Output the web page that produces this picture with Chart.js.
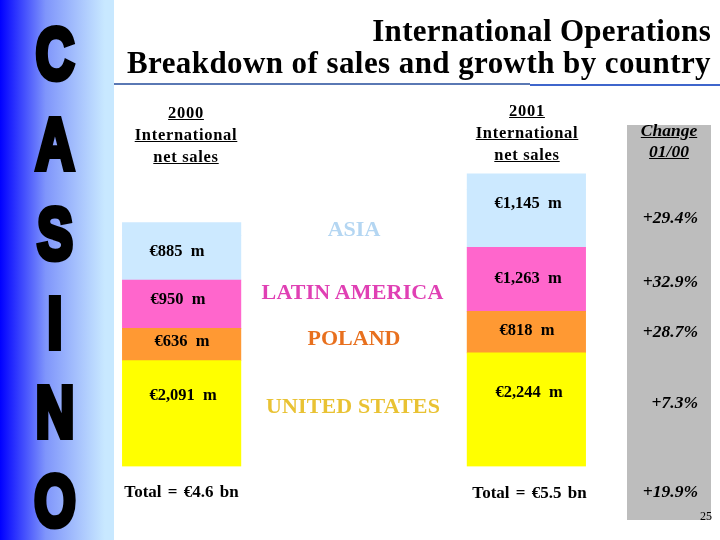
<!DOCTYPE html>
<html><head><meta charset="utf-8">
<script src="https://cdn.jsdelivr.net/npm/chart.js@4/dist/chart.umd.min.js"></script>
<style>
html,body{margin:0;padding:0;background:#fff;width:720px;height:540px;overflow:hidden}
#stage{position:relative;width:720px;height:540px;font-family:"Liberation Serif",serif;color:#000}
#side{position:absolute;left:0;top:0;width:114px;height:540px;background:linear-gradient(90deg,#0000ff 0,#7f95fb 40%,#c8e8ff 92%,#c8e8ff 100%)}
#panel{position:absolute;left:627px;top:125px;width:84px;height:395px;background:#bdbdbd}
#rule1{position:absolute;left:114px;top:83px;width:416px;height:2px;background:#5a78b4}
#rule2{position:absolute;left:530px;top:84px;width:190px;height:2px;background:#3f66cc}
canvas{position:absolute;left:0;top:0}
.t{position:absolute;white-space:nowrap;line-height:1;font-weight:bold}
.letter{position:absolute;width:80px;text-align:center;font:bold 72px/1 "Liberation Sans Narrow","Liberation Sans",sans-serif;-webkit-text-stroke:6px #000;color:#000}
</style></head><body>
<div id="stage">
<div id="side"></div><div id="panel"></div><div id="rule1"></div><div id="rule2"></div>
<canvas id="c" width="720" height="540" style="width:720px;height:540px"></canvas>
</div>
<script>
// Data (EUR millions)
const years = ["2000", "2001"];
const unitedStates = [2091, 2244];
const poland = [636, 818];
const latinAmerica = [950, 1263];
const asia = [885, 1145];
// The reference draws the Asia block taller than its printed figure; this is that extra height.
const asiaExtraDrawn = [250, 308];
const regions = ["UNITED STATES", "POLAND", "LATIN AMERICA", "ASIA"];
const changes = ["+29.4%", "+32.9%", "+28.7%", "+7.3%", "+19.9%"];
const totals = ["Total = €4.6 bn", "Total = €5.5 bn"];
const sideLetters = ["C", "A", "S", "I", "N", "O"];

const fillColors = {us:"#ffff00", pl:"#ff9933", la:"#ff66cc", as:"#cce9ff"};

// Layout of the labels
const valueLabelPos = {
  as:[[177,252],[528,204]], la:[[178,300],[528,279]],
  pl:[[182,342],[527,331]], us:[[183,396],[529,393]]
};
const fmt = v => "€" + v.toLocaleString("en-US") + " m";
const valueLabels = {
  id:"valueLabels",
  afterDatasetsDraw(ch){
    const g = ch.ctx; g.save();
    g.font = 'bold 16.5px "Liberation Serif"'; g.fillStyle = "#000";
    g.textAlign = "center"; g.textBaseline = "middle";
    g.wordSpacing = "4px";
    const src = {as:asia, la:latinAmerica, pl:poland, us:unitedStates};
    for (const k in src) src[k].forEach((v,i)=>{
      const p = valueLabelPos[k][i];
      g.fillText(fmt(v), p[0], p[1]);
    });
    g.restore();
  }
};

new Chart(document.getElementById("c"), {
  type:"bar",
  data:{labels:years, datasets:[
    {label:regions[0], data:unitedStates, backgroundColor:fillColors.us},
    {label:regions[1], data:poland, backgroundColor:fillColors.pl},
    {label:regions[2], data:latinAmerica, backgroundColor:fillColors.la},
    {label:regions[3], data:asia, backgroundColor:fillColors.as},
    {label:"Asia (drawn height)", data:asiaExtraDrawn, backgroundColor:fillColors.as}
  ]},
  options:{
    responsive:false, animation:false, devicePixelRatio:1,
    layout:{padding:{left:9.25,right:21.25,top:162.5,bottom:73.5}},
    plugins:{legend:{display:false},title:{display:false},tooltip:{enabled:false}},
    datasets:{bar:{barThickness:118.5,borderWidth:0}},
    scales:{
      x:{stacked:true,display:false,offset:true},
      y:{stacked:true,display:false,min:0,max:6000}
    }
  },
  plugins:[valueLabels]
});

// DOM text
const stage = document.getElementById("stage");
function text(s, o){
  const d = document.createElement("div"); d.className = "t"; d.textContent = s;
  const st = d.style;
  st.fontSize = o.size + "px"; st.top = (o.y - o.size/2) + "px";
  if (o.c!==undefined){ st.left = o.c + "px"; st.transform = "translateX(-50%)"; }
  if (o.r!==undefined){ st.right = (720 - o.r) + "px"; }
  if (o.color) st.color = o.color;
  if (o.italic) st.fontStyle = "italic";
  if (o.u) st.textDecoration = "underline";
  if (o.ls) st.letterSpacing = o.ls + "px";
  if (o.ws) st.wordSpacing = o.ws + "px";
  if (o.normal) st.fontWeight = "normal";
  stage.appendChild(d);
}
text("International Operations",{r:711,y:30,size:31,ls:.3});
text("Breakdown of sales and growth by country",{r:711,y:62,size:31,ls:.42});
[["2000",113],["International",135],["net sales",157]].forEach(a=>text(a[0],{c:186,y:a[1],size:16.5,u:true,ls:.7}));
[["2001",111],["International",133],["net sales",155]].forEach(a=>text(a[0],{c:527,y:a[1],size:16.5,u:true,ls:.7}));
[["Change",131],["01/00",152]].forEach(a=>text(a[0],{c:669,y:a[1],size:17.5,u:true,italic:true}));
text(regions[3],{c:354,y:229,size:22,color:"#b4d6f2"});
text(regions[2],{c:352.5,y:292,size:22,color:"#e040b4",ls:.15});
text(regions[1],{c:354,y:338,size:22,color:"#e8701e"});
text(regions[0],{c:353,y:406,size:22,color:"#e9c233",ls:.15});
[218,282,332,403,492].forEach((y,i)=>text(changes[i],{r:698,y:y,size:17.5,italic:true}));
text(totals[0],{c:181.5,y:491,size:17,ws:2});
text(totals[1],{c:529.5,y:492,size:17,ws:2});
text("25",{r:712,y:516,size:12,normal:true});
const letterMid = [54,144,233.5,322.5,412,500.5];
sideLetters.forEach((L,i)=>{
  const d = document.createElement("div"); d.className="letter"; d.textContent=L;
  d.style.left="15px"; d.style.top=(letterMid[i]-36)+"px";
  d.style.transform="scaleX(0.74)";
  stage.appendChild(d);
});
</script>
</body></html>
